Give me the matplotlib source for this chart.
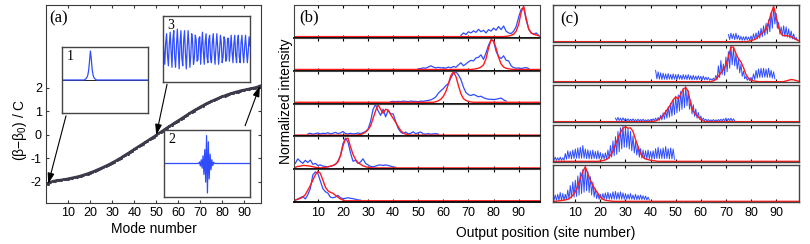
import numpy as np
import matplotlib
matplotlib.use('Agg')
import matplotlib.pyplot as plt

plt.rcParams['font.family'] = ['Liberation Sans', 'DejaVu Sans']
plt.rcParams['mathtext.fontset'] = 'custom'
plt.rcParams['mathtext.rm'] = 'Liberation Sans'
plt.rcParams['axes.unicode_minus'] = False

# ---- panel (a): propagation constants of the modes
beta_norm = [-2.09, -2.02, -1.98, -1.96, -1.94, -1.93, -1.92, -1.90, -1.89, -1.87,
             -1.85, -1.83, -1.81, -1.79, -1.77, -1.74, -1.71, -1.68, -1.65, -1.61,
             -1.58, -1.54, -1.50, -1.46, -1.42, -1.38, -1.33, -1.29, -1.24, -1.19,
             -1.14, -1.09, -1.03, -0.98, -0.92, -0.86, -0.80, -0.74, -0.68, -0.62,
             -0.56, -0.50, -0.44, -0.38, -0.32, -0.26, -0.20, -0.14, -0.08, -0.02,
             0.05, 0.11, 0.17, 0.24, 0.30, 0.36, 0.42, 0.48, 0.54, 0.60,
             0.66, 0.72, 0.78, 0.84, 0.90, 0.96, 1.02, 1.07, 1.12, 1.18,
             1.23, 1.28, 1.33, 1.37, 1.42, 1.46, 1.50, 1.54, 1.58, 1.62,
             1.65, 1.69, 1.72, 1.75, 1.78, 1.81, 1.83, 1.86, 1.88, 1.90,
             1.92, 1.94, 1.96, 1.98, 2.00, 2.03, 2.07]
modes = np.arange(1, len(beta_norm) + 1)

# mode profiles shown in the insets (98 sites)
inset1_start = 27
inset1_vals = [0.02, 0.04, 0.08, 0.15, 0.3, 0.6, 0.95, 0.7, 0.35, 0.17, 0.08, 0.04, 0.02]
inset2_start = 41
inset2_vals = [0.05, -0.08, 0.12, -0.15, 0.25, -0.35, 0.45, -0.6, 0.9, -0.95,
               0.7, -0.5, 0.3, -0.2, 0.12, -0.07, 0.04]
inset3_vals = [0.45, -0.1, -0.5, 0.2, 0.5, -0.2, -0.55, 0.15, 0.55, -0.05, -0.6, 0.3,
               0.6, -0.25, -0.6, 0.1, 0.65, 0.0, -0.65, 0.2, 0.6, -0.3, -0.55, 0.25,
               0.6, -0.15, -0.65, 0.05, 0.6, 0.1, -0.6, -0.2, 0.5, 0.25, -0.5, -0.3,
               0.45, 0.3, -0.4, -0.35, 0.35, 0.4, -0.5, 0.1, 0.55, -0.1, -0.5, 0.2,
               0.5, -0.25, -0.45, 0.3, 0.45, -0.3, -0.45, 0.2, 0.5, -0.1, -0.5, 0.05,
               0.5, 0.05, -0.5, -0.1, 0.45, 0.2, -0.45, -0.25, 0.4, 0.3, -0.4, -0.3,
               0.35, 0.35, -0.4, 0.0, 0.45, -0.1, -0.45, 0.15, 0.45, -0.2, -0.45, 0.25,
               0.45, -0.25, -0.45, 0.2, 0.45, -0.1, -0.45, 0.05, 0.45, 0.0, -0.45, -0.1, 0.4, 0.1]
n_sites = 98

# ---- panel (b): measured (blue) vs simulated (red), one row per input
b_blue_start = [67, 50, 39, 6, 1, 1]
b_blue = [
    [0.04, 0.12, 0.07, 0.16, 0.12, 0.19, 0.14, 0.24, 0.16, 0.21, 0.12, 0.23, 0.18, 0.28, 0.21, 0.33,
     0.23, 0.35, 0.18, 0.12, 0.1, 0.18, 0.33, 0.64, 0.9, 0.95, 0.54, 0.25, 0.12, 0.08, 0.12, 0.04],
    [0.02, 0.03, 0.05, 0.04, 0.08, 0.12, 0.08, 0.05, 0.07, 0.05, 0.06, 0.04, 0.08, 0.05, 0.1, 0.07,
     0.15, 0.22, 0.12, 0.18, 0.25, 0.3, 0.28, 0.38, 0.4, 0.48, 0.33, 0.55, 0.8, 0.97, 0.92, 0.6,
     0.42, 0.36, 0.45, 0.3, 0.28, 0.12, 0.06, 0.04, 0.05, 0.03, 0.05, 0.06, 0.03],
    [0.02, 0.03, 0.02, 0.03, 0.02, 0.04, 0.03, 0.02, 0.04, 0.03, 0.03, 0.02, 0.04, 0.03, 0.05, 0.06,
     0.08, 0.12, 0.18, 0.3, 0.38, 0.45, 0.55, 0.62, 0.8, 0.95, 1.0, 0.9, 0.75, 0.5, 0.32, 0.25,
     0.22, 0.26, 0.22, 0.18, 0.2, 0.15, 0.12, 0.1, 0.1, 0.09, 0.1, 0.12, 0.14, 0.08, 0.04],
    [0.04, 0.06, 0.03, 0.05, 0.07, 0.04, 0.06, 0.05, 0.08, 0.04, 0.06, 0.09, 0.05, 0.07, 0.12, 0.05,
     0.04, 0.06, 0.04, 0.05, 0.07, 0.05, 0.08, 0.12, 0.2, 0.45, 0.85, 1.0, 0.8, 0.65, 0.85, 0.6,
     0.82, 0.7, 0.7, 0.45, 0.22, 0.1, 0.05, 0.1, 0.04, 0.06, 0.11, 0.04, 0.08, 0.1, 0.04, 0.03,
     0.05, 0.03, 0.04, 0.05, 0.03],
    [0.15, 0.3, 0.22, 0.15, 0.25, 0.18, 0.26, 0.12, 0.15, 0.08, 0.1, 0.06, 0.05, 0.03, 0.05, 0.08,
     0.12, 0.22, 0.4, 0.8, 0.98, 0.85, 0.5, 0.22, 0.25, 0.15, 0.2, 0.3, 0.15, 0.1, 0.05, 0.04,
     0.06, 0.09, 0.1, 0.08, 0.1, 0.08, 0.06, 0.03, 0.02],
    [0.02, 0.06, 0.1, 0.14, 0.06, 0.2, 0.4, 0.85, 0.95, 0.9, 0.65, 0.4, 0.3, 0.25, 0.12, 0.1,
     0.12, 0.18, 0.1, 0.07, 0.08, 0.1, 0.08, 0.07, 0.05, 0.03, 0.02],
]
b_red_start = [85, 72, 57, 26, 1, 1]
b_red = [
    [0.01, 0.02, 0.04, 0.08, 0.18, 0.4, 0.8, 1.0, 0.6, 0.25, 0.12, 0.08, 0.05, 0.03],
    [0.01, 0.02, 0.04, 0.08, 0.15, 0.35, 0.7, 0.98, 0.95, 0.7, 0.4, 0.18, 0.08, 0.04, 0.02, 0.01],
    [0.02, 0.05, 0.1, 0.2, 0.35, 0.6, 0.88, 1.0, 0.85, 0.55, 0.28, 0.12, 0.06, 0.03, 0.01],
    [0.01, 0.02, 0.05, 0.1, 0.18, 0.3, 0.55, 0.8, 1.0, 0.85, 0.72, 0.85, 0.82, 0.68, 0.55, 0.42,
     0.28, 0.15, 0.07, 0.03, 0.01],
    [0.02, 0.05, 0.06, 0.08, 0.08, 0.07, 0.06, 0.04, 0.02, 0.01, 0.0, 0.01, 0.02, 0.04, 0.06, 0.08,
     0.12, 0.2, 0.4, 0.72, 0.95, 0.98, 0.7, 0.45, 0.28, 0.17, 0.12, 0.07, 0.04, 0.02, 0.01],
    [0.02, 0.05, 0.08, 0.12, 0.2, 0.35, 0.5, 0.68, 0.85, 0.97, 0.9, 0.68, 0.45, 0.33, 0.28, 0.25,
     0.18, 0.12, 0.06, 0.02, 0.0],
]

# ---- panel (c): camera profiles, per-site maxima (waveguide) and minima (gap)
c_blue_start = [71, 42, 26, 1, 1]
c_blue_top = [
    [0.2, 0.24, 0.22, 0.24, 0.18, 0.15, 0.14, 0.15, 0.13, 0.16, 0.22, 0.25, 0.3, 0.38, 0.45, 0.52,
     0.62, 0.82, 1.0, 0.8, 0.55, 0.42, 0.45, 0.42, 0.36, 0.3, 0.22, 0.12],
    [0.32, 0.28, 0.25, 0.24, 0.22, 0.23, 0.2, 0.22, 0.2, 0.21, 0.18, 0.2, 0.19, 0.2, 0.17, 0.18,
     0.16, 0.17, 0.15, 0.16, 0.13, 0.12, 0.08, 0.1, 0.18, 0.45, 0.6, 0.5, 0.7, 0.85, 1.0, 0.95,
     0.78, 0.65, 0.5, 0.3, 0.15, 0.1, 0.12, 0.22, 0.32, 0.36, 0.38, 0.38, 0.36, 0.38, 0.32, 0.28],
    [0.1, 0.12, 0.1, 0.11, 0.09, 0.08, 0.07, 0.08, 0.06, 0.07, 0.06, 0.07, 0.05, 0.06, 0.06, 0.08,
     0.1, 0.12, 0.18, 0.25, 0.32, 0.42, 0.52, 0.62, 0.72, 0.76, 0.86, 0.95, 1.0, 0.88, 0.62, 0.48,
     0.36, 0.26, 0.16, 0.1, 0.07, 0.06, 0.05, 0.06, 0.05, 0.06, 0.07, 0.08, 0.1, 0.09, 0.1, 0.08],
    [0.08, 0.12, 0.1, 0.12, 0.1, 0.22, 0.3, 0.28, 0.32, 0.35, 0.38, 0.4, 0.45, 0.35, 0.33, 0.3,
     0.32, 0.28, 0.3, 0.25, 0.22, 0.24, 0.32, 0.45, 0.58, 0.7, 0.85, 0.95, 1.0, 0.97, 0.92, 0.85,
     0.72, 0.56, 0.42, 0.36, 0.32, 0.3, 0.32, 0.28, 0.3, 0.36, 0.4, 0.35, 0.38, 0.42, 0.36, 0.38, 0.35],
    [0.15, 0.18, 0.2, 0.25, 0.22, 0.2, 0.32, 0.45, 0.55, 0.6, 0.72, 0.82, 0.9, 1.0, 0.85, 0.7,
     0.55, 0.36, 0.22, 0.2, 0.22, 0.24, 0.26, 0.22, 0.27, 0.28, 0.25, 0.27, 0.24, 0.22, 0.2, 0.22,
     0.18, 0.2, 0.17, 0.18, 0.16, 0.15, 0.12],
]
c_blue_bot = [
    [0.06, 0.08, 0.06, 0.07, 0.05, 0.04, 0.04, 0.05, 0.04, 0.05, 0.06, 0.08, 0.1, 0.14, 0.18, 0.22,
     0.28, 0.38, 0.5, 0.38, 0.22, 0.16, 0.15, 0.13, 0.1, 0.08, 0.06, 0.03],
    [0.08, 0.07, 0.06, 0.07, 0.06, 0.07, 0.06, 0.07, 0.06, 0.07, 0.06, 0.07, 0.06, 0.06, 0.05, 0.06,
     0.05, 0.06, 0.05, 0.05, 0.05, 0.04, 0.04, 0.04, 0.06, 0.12, 0.2, 0.18, 0.28, 0.38, 0.48, 0.45,
     0.35, 0.25, 0.15, 0.08, 0.04, 0.03, 0.04, 0.06, 0.1, 0.12, 0.12, 0.13, 0.12, 0.12, 0.1, 0.08],
    [0.03, 0.03, 0.02, 0.03, 0.02, 0.02, 0.02, 0.02, 0.02, 0.02, 0.02, 0.02, 0.02, 0.02, 0.02, 0.03,
     0.03, 0.04, 0.05, 0.07, 0.1, 0.13, 0.16, 0.2, 0.25, 0.3, 0.35, 0.4, 0.45, 0.35, 0.22, 0.15,
     0.1, 0.07, 0.05, 0.03, 0.02, 0.02, 0.02, 0.02, 0.02, 0.02, 0.02, 0.02, 0.02, 0.02, 0.02, 0.02],
    [0.03, 0.03, 0.03, 0.03, 0.03, 0.06, 0.08, 0.07, 0.08, 0.09, 0.08, 0.09, 0.09, 0.08, 0.07, 0.07,
     0.08, 0.07, 0.07, 0.06, 0.06, 0.06, 0.08, 0.12, 0.16, 0.2, 0.27, 0.35, 0.4, 0.4, 0.35, 0.3,
     0.24, 0.18, 0.12, 0.09, 0.07, 0.07, 0.07, 0.07, 0.07, 0.08, 0.08, 0.08, 0.08, 0.08, 0.07, 0.07, 0.06],
    [0.03, 0.03, 0.03, 0.03, 0.03, 0.05, 0.06, 0.1, 0.12, 0.14, 0.18, 0.22, 0.26, 0.3, 0.25, 0.18,
     0.12, 0.08, 0.06, 0.06, 0.06, 0.06, 0.06, 0.06, 0.06, 0.06, 0.06, 0.06, 0.06, 0.06, 0.06, 0.06,
     0.05, 0.05, 0.05, 0.05, 0.05, 0.04, 0.04],
]
c_red_start = [79, 65, 41, 20, 3]
c_red = [
    [0.01, 0.03, 0.05, 0.08, 0.15, 0.22, 0.28, 0.35, 0.55, 0.8, 1.0, 0.72, 0.4, 0.22, 0.17, 0.17,
     0.16, 0.14, 0.1, 0.06, 0.03],
    [0.02, 0.06, 0.15, 0.25, 0.35, 0.47, 0.7, 0.98, 0.98, 0.8, 0.65, 0.56, 0.4, 0.2, 0.1, 0.04,
     0.02, 0.01, 0, 0, 0, 0, 0, 0, 0, 0, 0, 0, 0, 0.02, 0.04, 0.06, 0.05, 0.03, 0.01],
    [0.01, 0.02, 0.05, 0.11, 0.18, 0.28, 0.38, 0.49, 0.62, 0.7, 0.65, 0.78, 0.92, 0.97, 0.85, 0.5,
     0.3, 0.2, 0.13, 0.06, 0.02],
    [0.01, 0.02, 0.04, 0.08, 0.17, 0.28, 0.48, 0.65, 0.82, 0.94, 0.98, 0.94, 0.95, 0.85, 0.62, 0.42,
     0.22, 0.12, 0.07, 0.05, 0.03, 0.02, 0.01],
    [0.01, 0.02, 0.03, 0.04, 0.06, 0.1, 0.17, 0.27, 0.43, 0.65, 0.85, 0.98, 0.78, 0.6, 0.45, 0.33,
     0.23, 0.12, 0.06, 0.03, 0.02, 0.01],
]

site_ticks = [10, 20, 30, 40, 50, 60, 70, 80, 90]
blue = '#2f4dff'
red = '#ff1a1a'
frame = '#3a3a3a'

W, H = 810, 244
fig = plt.figure(figsize=(W / 100, H / 100), dpi=100)


def px_axes(x0, y0, x1, y1):
    return fig.add_axes([x0 / W, 1 - y1 / H, (x1 - x0) / W, (y1 - y0) / H])


def style_frame(ax, color=frame, lw=0.8):
    for sp in ax.spines.values():
        sp.set_color(color)
        sp.set_linewidth(lw)


def padded(start, vals, x):
    y = np.zeros(len(x))
    idx = np.searchsorted(x, start)
    y[idx:idx + len(vals)] = vals
    return y


# ---------------- (a)
ax = px_axes(46, 5, 261, 203)
ax.plot(modes, beta_norm, color='#3b3b4b', lw=1.8, marker='.', ms=2.5)
ax.set_xlim(0, 97.5)
ax.set_ylim(-2.9, 5.5)
ax.set_xticks(site_ticks)
ax.set_yticks([-2, -1, 0, 1, 2])
ax.tick_params(direction='in', length=2.5, top=True, right=True, labelsize=9, pad=3, color=frame)
style_frame(ax)
ax.set_xlabel('Mode number', fontsize=10, labelpad=2)
ax.set_ylabel('(β−β$_0$) / C', fontsize=10)
ax.yaxis.set_label_coords(-0.078, 0.37)
ax.text(0.015, 0.975, '(a)', transform=ax.transAxes, ha='left', va='top',
        fontsize=12, family='Liberation Serif')

arrow = dict(arrowstyle='-|>,head_length=0.8,head_width=0.25', color='k', lw=0.8,
             mutation_scale=8, shrinkA=0, shrinkB=0)
ax.annotate('', xy=(modes[0], beta_norm[0]), xytext=(0.093, 0.44),
            textcoords='axes fraction', arrowprops=arrow)
ax.annotate('', xy=(modes[49], beta_norm[49]), xytext=(0.563, 0.6),
            textcoords='axes fraction', arrowprops=arrow)
ax.annotate('', xy=(modes[-1], beta_norm[-1]), xytext=(0.926, 0.39),
            textcoords='axes fraction', arrowprops=arrow)

sites = np.arange(1, n_sites + 1)
insets = [((62, 47, 148, 113), padded(inset1_start, inset1_vals, sites), '1', True),
          ((163, 16, 250, 82), np.array(inset3_vals), '3', False),
          ((164, 130, 250, 197), padded(inset2_start, inset2_vals, sites), '2', False)]
for box, prof, lab, zero_line in insets:
    ai = px_axes(*box)
    if zero_line:
        ai.axhline(0, color='k', lw=0.6)
    ai.plot(sites, prof, color=blue, lw=0.9)
    ai.set_xlim(1, n_sites)
    ai.set_ylim(-1.08, 1.08)
    ai.set_xticks([])
    ai.set_yticks([])
    style_frame(ai, '#444444', 1.0)
    ai.text(0.05, 0.95, lab, transform=ai.transAxes, ha='left', va='top',
            fontsize=10, family='Liberation Serif')

# ---------------- (b)
xs = np.arange(0, 100)
row_h = 197 / 6
for i in range(6):
    y0 = 5 + i * row_h
    axb = px_axes(294, y0, 540, y0 + row_h)
    bx = np.arange(b_blue_start[i], b_blue_start[i] + len(b_blue[i]))
    axb.plot(bx, b_blue[i], color=blue, lw=0.9)
    axb.plot(xs, padded(b_red_start[i], b_red[i], xs), color=red, lw=1.0)
    axb.set_xlim(0.5, 98.5)
    axb.set_ylim(-0.04, 1.04)
    axb.set_yticks([])
    axb.set_xticks(site_ticks)
    axb.tick_params(direction='in', length=2.5, top=True, labelbottom=(i == 5),
                    labelsize=9, color='k')
    style_frame(axb, '#444444', 0.8)
    axb.spines['bottom'].set_color('k')
    axb.spines['bottom'].set_linewidth(1.3)
    if i == 0:
        axb.text(0.02, 0.88, '(b)', transform=axb.transAxes, ha='left', va='top',
                 fontsize=12, family='Liberation Serif')

# ---------------- (c)
c_tops = [5, 45, 85, 124.7, 164.7]
for i in range(5):
    axc = px_axes(552.7, c_tops[i], 798.7, c_tops[i] + 37)
    top = np.array(c_blue_top[i])
    bot = np.array(c_blue_bot[i])
    s = np.arange(c_blue_start[i], c_blue_start[i] + len(top))
    cx = np.column_stack([s, s + 0.5]).ravel()
    cy = np.column_stack([top, bot]).ravel()
    axc.plot(cx, cy, color=blue, lw=0.7)
    axc.plot(xs, padded(c_red_start[i], c_red[i], xs), color=red, lw=1.0)
    axc.set_xlim(1, 99)
    axc.set_ylim(-0.01, 1.04)
    axc.set_yticks([])
    axc.set_xticks(site_ticks)
    axc.tick_params(direction='in', length=2.5, top=True, labelbottom=(i == 4),
                    labelsize=9, color='k')
    style_frame(axc, '#444444', 1.0)
    if i == 0:
        axc.text(0.03, 0.82, '(c)', transform=axc.transAxes, ha='left', va='top',
                 fontsize=12, family='Liberation Serif')

fig.text(286 / W, 1 - 101 / H, 'Normalized intensity', rotation=90,
         ha='center', va='center', fontsize=10)
fig.text(546 / W, 1 - 233 / H, 'Output position (site number)',
         ha='center', va='center', fontsize=10)

fig.savefig('out.png', dpi=100)
